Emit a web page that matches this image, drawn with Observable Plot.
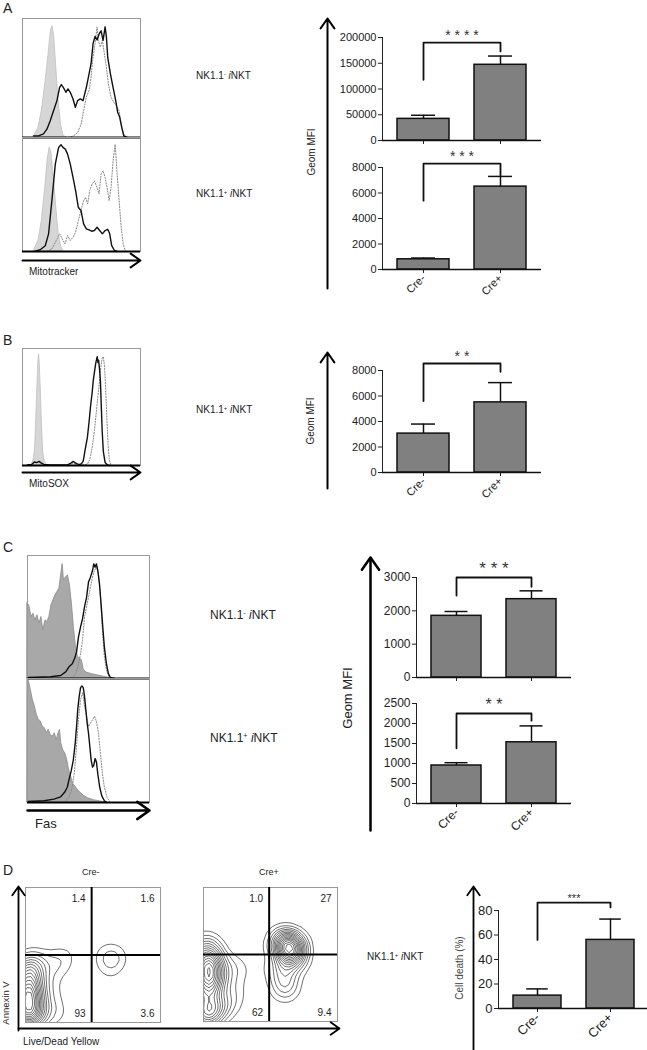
<!DOCTYPE html>
<html><head><meta charset="utf-8">
<script src="https://cdn.jsdelivr.net/npm/d3@7"></script>
<script src="https://cdn.jsdelivr.net/npm/@observablehq/plot@0.6"></script>
<style>
body{margin:0;background:#fff;font-family:"Liberation Sans",Arial,sans-serif;}
#root{position:relative;width:647px;height:1050px;overflow:hidden;background:#fff;}
.abs{position:absolute;white-space:nowrap;color:#222;line-height:1;}
sup{font-size:0.6em;vertical-align:0.55em;line-height:0;}
</style></head><body><div id="root"></div><script>
// ---------------- DATA ----------------
const groups = ["Cre-", "Cre+"];

// Bar means and error-bar tops (Geom MFI / %)
const mitoNegMean = [42000, 147000], mitoNegErrTop = [49000, 164000];
const mitoPosMean = [800, 6500],     mitoPosErrTop = [900, 7300];
const mitosoxMean = [3050, 5500],    mitosoxErrTop = [3800, 7050];
const fasNegMean  = [1850, 2350],    fasNegErrTop  = [1980, 2600];
const fasPosMean  = [950, 1530],     fasPosErrTop  = [1020, 1940];
const deathMean   = [10.5, 56],      deathErrTop   = [16, 73];

// Significance brackets: [left end, bracket level, right end]
const mitoNegBracket = [118000, 190000, 173000], mitoNegStars = "* * * *";
const mitoPosBracket = [5400, 8300, 7400],       mitoPosStars = "* * *";
const mitosoxBracket = [5600, 8550, 7900],       mitosoxStars = "* *";
const fasNegBracket  = [2460, 3000, 2720],       fasNegStars  = "* * *";
const fasPosBracket  = [1380, 2250, 2070],       fasPosStars  = "* *";
const deathBracket   = [56, 86.5, 82.5],         deathStars   = "***";

// Y ticks
const ticksMitoNeg = [0, 50000, 100000, 150000, 200000];
const ticksMitoPos = [0, 2000, 4000, 6000, 8000];
const ticksMitosox = [0, 2000, 4000, 6000, 8000];
const ticksFasNeg  = [0, 1000, 2000, 3000];
const ticksFasPos  = [0, 500, 1000, 1500, 2000, 2500];
const ticksDeath   = [0, 20, 40, 60, 80];

// Histograms: [fluorescence (0-100), % of max]
const mitoNegIso = [[9.3,0],[13.6,8.5],[16.4,22.5],[19.3,45],[22.1,70],[24.1,90],[25.5,93.5],[26.9,84.5],[28.6,59],[30.6,31],[32.6,11],[34.8,1.4],[37.7,0]];
const mitoNegCreNeg = [[9.3,1.4],[13.6,1.4],[17.8,3],[20.7,7],[23.5,14],[26.3,22.5],[29.2,31],[31.4,42],[32.9,44.5],[34.8,41.7],[36.8,38],[38.5,40.8],[40.5,38],[42.8,32.4],[44.8,25.4],[46.7,31],[49,32.4],[51.3,31],[54.1,42],[56.4,53.5],[58.1,62],[59.8,79],[61.5,85],[63.2,82],[64.9,87],[66.6,89.6],[68.3,81.7],[70,93],[71.1,84.5],[72.2,67.6],[74.5,53.5],[76.8,42],[79,31],[80.7,21],[82.4,17],[84.1,8.5],[85.8,1.4],[88.7,0]];
const mitoNegCrePos = [[39,0],[43.3,1.4],[46.7,4],[49.6,11],[51.8,22.5],[54.1,34],[56.4,39.4],[58.1,50.7],[59.8,67.6],[61.5,79],[63.2,93],[64.3,81.7],[66,76],[67.7,81.7],[69.4,70.4],[71.1,59],[72.8,45],[75,34],[77.3,29.6],[79.6,26.8],[81.9,22.5],[83.6,11],[85.8,3],[88,0]];

const mitoPosIso = [[9.3,0],[13.6,9.6],[16.4,27],[19.3,56],[21.2,79.6],[22.9,91],[24.4,88],[26.3,68],[28.6,39],[30.6,15.5],[32.9,3.8],[34.8,0]];
const mitoPosCreNeg = [[10.8,0.3],[15,1.5],[19.3,5],[22.1,15.5],[24.9,44.6],[27.8,76.7],[30.6,91.3],[32.6,93.6],[34.3,91.3],[36.3,89.8],[38.2,85.4],[40.5,76.7],[42.8,65],[45,53.4],[47.3,38.8],[49.6,35.9],[51.8,24.2],[54.1,19.8],[56.4,19],[58.6,17.8],[60.9,18.4],[63.2,21.3],[65.4,18.4],[67.7,15.5],[70,18.4],[72.2,19.5],[73.9,15.5],[75.6,5.2],[77.9,0.9],[80.2,0]];
const mitoPosCrePos = [[20.7,0],[24.9,2.3],[28.6,9.6],[31.4,15.5],[33.7,11],[36,6.7],[38.2,14],[40.5,9.6],[42.8,12.5],[45,17],[47.3,27],[49.6,36],[51.8,44.6],[53.5,47.5],[55.2,41.7],[57,53.4],[58.9,59],[60.9,62],[63.2,56],[64.9,50.4],[66.6,68],[68.3,70.8],[70,65],[71.7,56],[73.4,44.6],[75,56],[76.8,79.6],[78.5,94],[80.2,68],[81.9,44.6],[83.6,21.3],[85.3,6.7],[87.3,0]];

const mitosoxIso = [[7,0],[9,3],[10.5,12],[11.5,35],[12.5,65],[13.5,90],[14,95],[14.5,90],[15.5,65],[16.5,35],[17.5,12],[19,3],[21,0]];
const mitosoxCreNeg = [[4,0.5],[8,1],[10,3],[12,2.5],[14,3.5],[16,2],[18,1],[24,0.5],[38,0.5],[41,2],[43,3.5],[45,2],[48,0.8],[50,1.5],[51.5,4],[53,13],[55,24],[56.5,38],[57.6,50],[59,62],[60,73],[61,80],[62,87],[63.3,93],[64,88],[64.5,90],[65.3,82],[66,73],[66.8,50],[67.5,30],[68.5,12],[70,2.5],[72,0.5],[74,0]];
const mitosoxCrePos = [[40,0],[43,2],[45,1],[50,0.5],[55,1],[57,5],[59,15],[61,30],[63,50],[65,70],[66.5,85],[67.5,92],[68.5,93],[69.5,85],[70.5,65],[71.5,40],[72.5,18],[73.5,5],[75,0]];

const fasNegIso = [[0,61],[1.4,59.5],[3.3,50],[4.9,52.7],[6.5,47.3],[8.2,51.4],[9.8,44.6],[11.4,50],[13,39],[14.7,47.3],[16.3,46],[17.9,50],[19.6,59.5],[21.2,63.5],[22.8,67.6],[24.5,70.3],[26.1,73],[27.7,85],[28.8,93],[29.9,79.7],[31.5,82.4],[33.2,83.8],[34.8,75.7],[36.4,60.8],[38,41.9],[39.7,25.7],[41.3,17.6],[42.9,16.2],[44.6,14.9],[46.2,6.8],[48.9,4.6],[53,3.5],[57,2.7],[62.5,1.4],[68,0.3],[72,0]];
const fasNegCreNeg = [[0,0.8],[19,1.4],[27.2,2.4],[31.3,5.4],[34,9.5],[36.7,12],[38.6,16.2],[40.2,21.6],[41.8,33.8],[43.5,41.9],[45.1,48.6],[46.7,58],[48.4,66],[50,78.4],[51.6,82.4],[53.3,87.8],[54.3,93.2],[55.4,90.5],[56.5,93.2],[57.6,87.8],[59,77],[60.3,60.8],[61.7,41.9],[63,25.7],[64.7,12],[66.3,4],[68,0.8],[70.7,0]];
const fasNegCrePos = [[36.7,0],[39.4,4],[41.3,9.5],[43.5,20.3],[45.1,31],[46.7,50],[48.4,58],[50,66],[51.6,74.3],[53.3,82.4],[54.9,87.8],[56.5,90.5],[58.2,85],[59.8,66],[61.4,39],[63,17.6],[64.7,6.8],[66.8,1.4],[69.3,0]];

const fasPosIso = [[0,100],[1.1,98],[2.7,91],[4.3,83],[6,77.7],[7.6,70.8],[9.2,66.8],[10.9,65.4],[12.5,61.3],[14.1,60],[15.8,55.9],[17.4,58.6],[19,54.5],[20.7,53],[22.3,55.9],[23.9,50.4],[25.5,55.9],[26.6,58.6],[27.7,47.7],[29.3,42.2],[31,39.5],[32.6,34],[34.2,25.9],[35.9,20.4],[37.5,15],[39.7,12.3],[41.8,9.5],[44,7.4],[46.2,5.4],[49.5,3.5],[54.3,1.9],[59.8,0.8],[65,0]];
const fasPosCreNeg = [[0,0.8],[13.6,1.4],[21.7,2.7],[27.2,4.6],[30.4,8.2],[32.6,12.3],[34.2,19],[35.9,25.9],[37.5,34],[39.1,47.7],[40.2,61.3],[41.3,76.3],[42.4,85.8],[43.5,92.6],[44.6,94],[45.7,92.6],[46.7,85.8],[47.8,75],[48.9,64],[50,56],[51.1,45],[52.2,34],[53.3,28.6],[54.3,30],[55.4,35.4],[56.5,32.7],[57.6,23.2],[59.2,12.3],[60.9,5.4],[63,1.4],[65.2,0]];
const fasPosCrePos = [[29.9,0],[34,4],[36.7,12.3],[38.6,26],[40.2,45],[41.8,66.8],[43.5,83],[45.1,88.6],[46.7,77.7],[48.4,69.5],[50,61.3],[51.6,64],[53.3,66.8],[54.9,69.5],[56.5,65.4],[58.2,55.9],[59.8,39.5],[61.4,23.2],[63,12.3],[65.2,4],[68,0]];

// Flow plots (Live/Dead Yellow %, Annexin V %, event weight)
const creNegEvents = [[1,4,3],[1,12,3],[1,20,3],[1,28,2.5],[1,36,2],[2,44,1.2],[5,8,1.5],[5,22,1.5],[6,36,1],[9,46,0.6],[12,6,0.8],[13,18,0.7],[14,32,0.6],[18,44,0.4],[20,10,0.4],[22,24,0.3],[24,40,0.3],[26,48,0.25],[25,6,0.3],[28,45,0.25],[30,51,0.2],[64,49,0.55],[60,44,0.3],[66,42,0.25],[58,52,0.25],[62,36,0.2],[68,50,0.25]];
const crePosEvents = [[2,4,4],[2,15,3],[2,26,4],[2,36,5],[2,46,4],[2,56,2.5],[7,40,2.5],[7,28,2],[8,50,1.2],[8,10,2],[13,11,1],[20,14,1],[20,41,1],[14,30,1],[24,24,0.6],[26,38,0.5],[44,39,0.35],[46,56,0.35],[63,55,5],[62,61,3],[67,50,3],[60,44,2],[59,35,1.5],[61,28,1.2],[59,22,0.7],[64,24,0.5],[71,56,1.5],[57,60,1],[70,42,0.8]];
const creNegQuadrants = ["1.4", "1.6", "93", "3.6"];
const crePosQuadrants = ["1.0", "27", "62", "9.4"];
const gateX = 49, gateY = 50;

// ---------------- HELPERS ----------------
const root = document.getElementById("root");
const FONT = "'Liberation Sans', Arial, sans-serif";
const baseStyle = {background: "transparent", overflow: "visible", fontFamily: FONT, color: "#222"};

function mount(el, left, top) {
  el.style.position = "absolute"; el.style.left = left + "px"; el.style.top = top + "px";
  root.appendChild(el);
}
function txt(html, x, y, size, opts = {}) {
  const d = document.createElement("div");
  d.className = "abs"; d.innerHTML = html;
  d.style.fontSize = size + "px"; d.style.left = x + "px"; d.style.top = y + "px";
  if (opts.color) d.style.color = opts.color;
  d.style.transform = opts.rotate ? "translate(-50%,-50%) rotate(-90deg)" : "translate(0,-50%)";
  root.appendChild(d);
}
function arrows(left, top, w, h, segs, sw = 2) {
  const p = Plot.plot({
    width: w, height: h, margin: 0, style: baseStyle,
    x: {domain: [0, w], range: [0, w], axis: null},
    y: {domain: [0, h], range: [0, h], axis: null},
    marks: [Plot.arrow(segs, {x1: "x1", y1: "y1", x2: "x2", y2: "y2", stroke: "#000", strokeWidth: sw, headLength: 9, headAngle: 70})]
  });
  mount(p, left, top);
}
function hist({left, top, w, h, iso, neg, pos, isoFill, isoStroke}) {
  const p = Plot.plot({
    width: w + 2, height: h + 2, margin: 1, style: baseStyle,
    x: {domain: [0, 100], axis: null},
    y: {domain: [0, 100], axis: null},
    marks: [
      Plot.areaY(iso, {x: d => d[0], y: d => d[1], fill: isoFill, stroke: isoStroke, strokeWidth: 0.8}),
      Plot.lineY(pos, {x: d => d[0], y: d => d[1], stroke: "#888", strokeWidth: 1, strokeDasharray: "1.2,1.6"}),
      Plot.lineY(neg, {x: d => d[0], y: d => d[1], stroke: "#111", strokeWidth: 1.4}),
      Plot.frame({stroke: "#999"}),
      Plot.ruleY([0], {stroke: "#000", strokeWidth: 2})
    ]
  });
  mount(p, left - 1, top - 1);
}
function bars({left, top, axisX, bar1, barW, step, yTopPx, yZeroPx, yMax, ticks, means, errs, bracket, stars, starSize, starOffset, fontSize, labels, mb}) {
  const mL = axisX - left, mR = 6;
  const pi = 1 - barW / step, po = (bar1 - axisX) / step;
  const rangeLen = step * (2 - pi) + 2 * (bar1 - axisX);
  const mT = yTopPx - top;
  const data = groups.map((g, i) => ({g, m: means[i], e: errs[i]}));
  const br = [
    {g: groups[0], v: bracket[0]}, {g: groups[0], v: bracket[1]},
    {g: groups[1], v: bracket[1]}, {g: groups[1], v: bracket[2]}
  ];
  const p = Plot.plot({
    width: mL + rangeLen + mR, height: yZeroPx - top + mb,
    marginLeft: mL, marginRight: mR, marginTop: mT, marginBottom: mb,
    style: {...baseStyle, fontSize: fontSize + "px"},
    x: {domain: groups, paddingInner: pi, paddingOuter: po, align: 0.5, label: null,
        tickSize: 4, tickRotate: -45, tickPadding: 3, tickFormat: labels ? (d => d) : (() => "")},
    y: {domain: [0, yMax], ticks, tickFormat: d => String(d), label: null, tickSize: 4, tickPadding: 2, line: true},
    marks: [
      Plot.ruleX(data, {x: "g", y1: "m", y2: "e", stroke: "#111", strokeWidth: 1.5}),
      Plot.tickY(data, {x: "g", y: "e", stroke: "#111", strokeWidth: 1.5, insetLeft: barW * 0.27, insetRight: barW * 0.27}),
      Plot.barY(data, {x: "g", y: "m", fill: "#808080", stroke: "#111", strokeWidth: 1.5}),
      Plot.line(br, {x: "g", y: "v", stroke: "#111", strokeWidth: 1.8}),
      Plot.text([stars], {text: d => d, y: bracket[1], lineAnchor: "bottom", dy: -starOffset + starSize * 0.58, frameAnchor: "middle", fontSize: starSize, fill: "#333"}),
      Plot.ruleY([0], {stroke: "#111", strokeWidth: 1.5})
    ]
  });
  mount(p, left, top);
}
function flow({left, top, size, events, quadrants}) {
  const topRow = quadrants.slice(0, 2), bottomRow = quadrants.slice(2, 4);
  const xs = [gateX, 100];
  const p = Plot.plot({
    width: size + 2, height: size + 2, margin: 1, style: {...baseStyle, fontSize: "10px"},
    x: {domain: [0, 100], axis: null},
    y: {domain: [0, 100], axis: null},
    marks: [
      Plot.density(events, {x: d => d[0], y: d => d[1], weight: d => d[2], bandwidth: 7, thresholds: 16, stroke: "#333", strokeWidth: 0.7, clip: true}),
      Plot.frame({stroke: "#999"}),
      Plot.ruleX([gateX], {stroke: "#000", strokeWidth: 2}),
      Plot.ruleY([gateY], {stroke: "#000", strokeWidth: 2}),
      Plot.text(topRow, {x: (d, i) => xs[i], y: 100, text: d => d, textAnchor: "end", dx: -6, dy: 11, fill: "#222"}),
      Plot.text(bottomRow, {x: (d, i) => xs[i], y: 0, text: d => d, textAnchor: "end", dx: -6, dy: -9, fill: "#222"})
    ]
  });
  mount(p, left - 1, top - 1);
}

// ---------------- PANEL A ----------------
txt("A", 3, 8, 14);
hist({left: 22, top: 18, w: 118, h: 119, iso: mitoNegIso, neg: mitoNegCreNeg, pos: mitoNegCrePos, isoFill: "#d6d6d6", isoStroke: "#c0c0c0"});
hist({left: 22, top: 137, w: 118, h: 114, iso: mitoPosIso, neg: mitoPosCreNeg, pos: mitoPosCrePos, isoFill: "#d6d6d6", isoStroke: "#c0c0c0"});
arrows(14, 250, 132, 20, [{x1: 8, y1: 10, x2: 126, y2: 10}]);
txt("Mitotracker", 29, 272, 10);
txt("NK1.1<sup>-</sup> <i>i</i>NKT", 196, 76, 10);
txt("NK1.1<sup>+</sup> <i>i</i>NKT", 196, 194, 10);
txt("Geom MFI", 312, 152, 10, {rotate: true});
arrows(317, 10, 20, 282, [{x1: 10, y1: 278, x2: 10, y2: 8}]);
bars({left: 330, top: 20, axisX: 382, bar1: 397, barW: 52, step: 77, yTopPx: 37, yZeroPx: 140, yMax: 200000,
  ticks: ticksMitoNeg, means: mitoNegMean, errs: mitoNegErrTop, bracket: mitoNegBracket, stars: mitoNegStars,
  starSize: 14, starOffset: 11, fontSize: 11, labels: false, mb: 8});
bars({left: 330, top: 140, axisX: 382, bar1: 397, barW: 52, step: 77, yTopPx: 167, yZeroPx: 269, yMax: 8000,
  ticks: ticksMitoPos, means: mitoPosMean, errs: mitoPosErrTop, bracket: mitoPosBracket, stars: mitoPosStars,
  starSize: 14, starOffset: 11, fontSize: 11, labels: true, mb: 34});

// ---------------- PANEL B ----------------
txt("B", 3, 340, 14);
hist({left: 22, top: 348, w: 118, h: 117, iso: mitosoxIso, neg: mitosoxCreNeg, pos: mitosoxCrePos, isoFill: "#d6d6d6", isoStroke: "#c0c0c0"});
arrows(14, 462, 132, 20, [{x1: 8, y1: 10, x2: 126, y2: 10}]);
txt("MitoSOX", 29, 484, 10);
txt("NK1.1<sup>+</sup> <i>i</i>NKT", 196, 410, 10);
txt("Geom MFI", 311, 421, 10, {rotate: true});
arrows(317, 344, 20, 148, [{x1: 10, y1: 144, x2: 10, y2: 8}]);
bars({left: 330, top: 340, axisX: 382, bar1: 397, barW: 52, step: 77, yTopPx: 370, yZeroPx: 472, yMax: 8000,
  ticks: ticksMitosox, means: mitosoxMean, errs: mitosoxErrTop, bracket: mitosoxBracket, stars: mitosoxStars,
  starSize: 14, starOffset: 11, fontSize: 11, labels: true, mb: 34});

// ---------------- PANEL C ----------------
txt("C", 3, 547, 14);
hist({left: 27, top: 555, w: 122, h: 123, iso: fasNegIso, neg: fasNegCreNeg, pos: fasNegCrePos, isoFill: "#a8a8a8", isoStroke: "#8a8a8a"});
hist({left: 27, top: 678, w: 122, h: 124, iso: fasPosIso, neg: fasPosCreNeg, pos: fasPosCrePos, isoFill: "#a8a8a8", isoStroke: "#8a8a8a"});
arrows(19, 800, 136, 20, [{x1: 8, y1: 10, x2: 130, y2: 10}], 2.5);
txt("Fas", 35, 823, 13);
txt("NK1.1<sup>-</sup> <i>i</i>NKT", 210, 615, 12);
txt("NK1.1<sup>+</sup> <i>i</i>NKT", 210, 738, 12);
txt("Geom MFI", 347, 698, 13, {rotate: true});
arrows(360, 549, 20, 285, [{x1: 10, y1: 281, x2: 10, y2: 8}], 2.5);
bars({left: 370, top: 550, axisX: 416, bar1: 431, barW: 50, step: 75, yTopPx: 577, yZeroPx: 677, yMax: 3000,
  ticks: ticksFasNeg, means: fasNegMean, errs: fasNegErrTop, bracket: fasNegBracket, stars: fasNegStars,
  starSize: 17, starOffset: 13, fontSize: 12, labels: false, mb: 8});
bars({left: 370, top: 680, axisX: 416, bar1: 431, barW: 50, step: 75, yTopPx: 703, yZeroPx: 803, yMax: 2500,
  ticks: ticksFasPos, means: fasPosMean, errs: fasPosErrTop, bracket: fasPosBracket, stars: fasPosStars,
  starSize: 16, starOffset: 13, fontSize: 12, labels: true, mb: 38});

// ---------------- PANEL D ----------------
txt("D", 3, 870, 14);
txt("Cre-", 82, 872, 9);
txt("Cre+", 259, 872, 9);
flow({left: 25, top: 887, size: 135, events: creNegEvents, quadrants: creNegQuadrants});
flow({left: 203, top: 887, size: 134, events: crePosEvents, quadrants: crePosQuadrants});
arrows(8, 878, 340, 160, [{x1: 10, y1: 152, x2: 10, y2: 8}, {x1: 10, y1: 150, x2: 331, y2: 150}], 1.8);
txt("Annexin V", 6, 1003, 9.5, {rotate: true});
txt("Live/Dead Yellow", 23, 1042, 10);
txt("NK1.1<sup>+</sup> <i>i</i>NKT", 367, 957, 10);
txt("Cell death (%)", 460, 968, 10, {rotate: true, color: "#444"});
arrows(463, 878, 20, 180, [{x1: 10, y1: 178, x2: 10, y2: 8}], 1.8);
bars({left: 470, top: 880, axisX: 498, bar1: 512, barW: 49, step: 74, yTopPx: 910, yZeroPx: 1008, yMax: 80,
  ticks: ticksDeath, means: deathMean, errs: deathErrTop, bracket: deathBracket, stars: deathStars,
  starSize: 11, starOffset: 7, fontSize: 13, labels: true, mb: 42});
</script></body></html>
